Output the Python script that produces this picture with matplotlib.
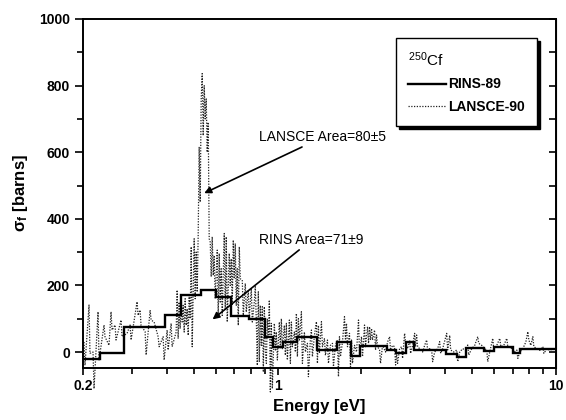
import matplotlib
matplotlib.use("Agg")
import matplotlib.pyplot as plt
from matplotlib.ticker import FixedLocator, NullFormatter, LogLocator
from matplotlib.lines import Line2D

plt.rcParams['font.family'] = ['Liberation Sans', 'DejaVu Sans']
plt.rcParams['mathtext.fontset'] = 'custom'
plt.rcParams['mathtext.rm'] = 'Liberation Sans'
plt.rcParams['mathtext.it'] = 'Liberation Sans:italic'
plt.rcParams['mathtext.bf'] = 'Liberation Sans:bold'

# RINS-89 histogram (bin edges in eV, cross sections in barns)
rins_edges = [0.2, 0.231, 0.281, 0.395, 0.45, 0.53, 0.60, 0.68, 0.79, 0.90, 0.96,
              1.05, 1.17, 1.38, 1.63, 1.83, 1.98, 2.47, 2.66, 2.9, 3.1, 4.03, 4.4,
              4.76, 5.5, 5.98, 7.0, 7.4, 10.0]
rins_sigma = [-20, -4, 76, 112, 170, 185, 166, 108, 98, 46, 16, 31, 46, 6, 31, -12,
              18, 6, -4, 31, 6, -6, -14, 11, 4, 14, -4, 9]

# LANSCE-90 measurement (energy in eV, cross section in barns)
lansce_energy = [
    0.2017, 0.2033, 0.2102, 0.2119, 0.2173, 0.2191, 0.2265, 0.2284, 0.2380, 0.2399,
    0.2480, 0.2522, 0.2543, 0.2607, 0.2628, 0.2740, 0.2762, 0.2880, 0.2952, 0.2977,
    0.3128, 0.3154, 0.3207, 0.3233, 0.3343, 0.3371, 0.3484, 0.3513, 0.3602, 0.3723,
    0.3754, 0.3880, 0.3912, 0.4011, 0.4044, 0.4146, 0.4180, 0.4321, 0.4357, 0.4393,
    0.4430, 0.4467, 0.4504, 0.4541, 0.4580, 0.4618, 0.4656, 0.4695, 0.4734, 0.4774,
    0.4813, 0.4853, 0.4894, 0.4934, 0.5016, 0.5058, 0.5100, 0.5143, 0.5185, 0.5228,
    0.5272, 0.5316, 0.5360, 0.5405, 0.5450, 0.5495, 0.5541, 0.5587, 0.5633, 0.5680,
    0.5728, 0.5775, 0.5823, 0.5872, 0.5921, 0.5970, 0.6070, 0.6120, 0.6171, 0.6222,
    0.6274, 0.6326, 0.6432, 0.6486, 0.6539, 0.6594, 0.6704, 0.6760, 0.6816, 0.6872,
    0.6931, 0.6989, 0.7047, 0.7105, 0.7164, 0.7224, 0.7284, 0.7345, 0.7467, 0.7529,
    0.7655, 0.7718, 0.7847, 0.7912, 0.8045, 0.8111, 0.8248, 0.8317, 0.8386, 0.8455,
    0.8526, 0.8597, 0.8668, 0.8740, 0.8813, 0.8887, 0.8961, 0.9035, 0.9111, 0.9186,
    0.9263, 0.9340, 0.9417, 0.9496, 0.9574, 0.9735, 0.9816, 0.9898, 0.9980, 1.0147,
    1.0231, 1.0316, 1.0402, 1.0576, 1.0664, 1.0753, 1.0842, 1.1023, 1.1115, 1.1207,
    1.1300, 1.1490, 1.1585, 1.1682, 1.1779, 1.1877, 1.1975, 1.2175, 1.2277, 1.2483,
    1.2587, 1.2797, 1.2903, 1.3119, 1.3228, 1.3338, 1.3561, 1.3787, 1.3902, 1.4017,
    1.4134, 1.4370, 1.4489, 1.4733, 1.4855, 1.5103, 1.5229, 1.5483, 1.5741, 1.5873,
    1.6138, 1.6407, 1.6544, 1.6681, 1.6820, 1.7101, 1.7388, 1.7533, 1.7679, 1.7826,
    1.8123, 1.8274, 1.8426, 1.8579, 1.8891, 1.9206, 1.9527, 1.9689, 2.0018, 2.0184,
    2.0523, 2.0694, 2.1039, 2.1214, 2.1391, 2.1568, 2.1748, 2.1929, 2.2296, 2.2481,
    2.2668, 2.2857, 2.3238, 2.3431, 2.3823, 2.4424, 2.4832, 2.5246, 2.5456, 2.5881,
    2.6315, 2.6534, 2.6754, 2.6977, 2.7427, 2.7885, 2.8117, 2.8589, 2.8826, 2.9308,
    2.9797, 3.0045, 3.0546, 3.1058, 3.1316, 3.1577, 3.1839, 3.2371, 3.3185, 3.3742,
    3.4306, 3.4591, 3.5168, 3.5756, 3.6053, 3.6657, 3.7579, 3.8207, 3.8524, 3.9167,
    4.0489, 4.0826, 4.1508, 4.1853, 4.2908, 4.3987, 4.4353, 4.5093, 4.6227, 4.7393,
    4.8185, 4.8585, 4.9807, 5.1064, 5.2348, 5.2784, 5.4111, 5.5476, 5.6402, 5.6871,
    5.7820, 5.9274, 5.9772, 6.1275, 6.2816, 6.3339, 6.4936, 6.6569, 6.7122, 6.9383,
    7.0546, 7.2320, 7.2921, 7.4139, 7.6003, 7.7921, 7.9222, 7.9881, 8.1214, 8.2570,
    8.3263, 8.5357, 8.7504, 8.9704, 9.0457, 9.2732, 9.5064, 9.7455, 9.99]
lansce_sigma = [
    30, -40, 141, -4, 0, -110, 121, -24, 81, 46,
    20, 121, 66, 81, 36, 96, 46, 56, 81, 36,
    151, 110, 126, 80, 61, -9, 126, 96, 90, 46,
    16, 46, -24, 66, 6, 86, 16, 60, 186, 40,
    150, 70, 170, 90, 140, 60, 160, 80, 130, 50,
    170, 100, 316, 16, 340, 160, 300, 180, 350, 616,
    450, 760, 836, 650, 800, 700, 760, 600, 690, 340,
    330, 226, 346, 230, 290, 160, 306, 110, 296, 150,
    250, 110, 356, 130, 346, 90, 296, 200, 280, 140,
    336, 220, 326, 140, 250, 80, 316, 220, 216, 110,
    206, 120, 186, 106, 191, 90, 150, 196, 96, -40,
    181, -30, 140, 20, 136, -60, 136, 6, -34, 100,
    40, 156, -120, 86, -110, 86, 6, 60, -24, 90,
    10, 100, 10, 80, -10, 86, -24, 96, -34, 90,
    16, 60, 0, 116, -14, 100, 36, 121, -34, 60,
    0, 26, -74, 40, 66, -14, 50, 91, -34, 80,
    -4, 91, 16, 40, -10, 36, -34, 20, 26, -44,
    20, 36, -74, 46, -14, 30, 106, 36, 86, 16,
    56, -44, 36, -34, 20, 0, 96, -4, 46, -14,
    81, 16, 76, 26, 76, 36, 71, 36, 66, 6,
    51, 16, 6, -34, 20, 0, 30, 46, 6, 20,
    16, -39, -4, -34, 10, 16, -19, 56, 26, 10,
    36, -4, 20, 56, 16, 51, 16, 10, 0, 20,
    36, 6, 10, 6, -29, 0, 10, 31, -4, 10,
    56, 6, 50, 6, 0, 6, -29, 0, 10, 5,
    21, -9, 10, 20, 46, 26, 20, 10, 6, -29,
    0, 41, 6, 20, 41, 16, 20, 41, 16, 10,
    0, 6, -19, 0, 10, 30, 61, 36, 20, 46,
    16, 10, 5, 16, -4, 10, 5, 10, 10]

x_ticks = [0.2, 1, 10]
x_ticklabels = ['0.2', '1', '10']
y_ticks = [0, 200, 400, 600, 800, 1000]

fig = plt.figure(figsize=(5.66, 4.20), dpi=100)
ax = fig.add_axes([83/566, 52/420, 473/566, 349/420])

lan_style = (0, (1, 1.2))
ax.plot(lansce_energy, lansce_sigma, color='#222222', lw=0.9,
        linestyle=lan_style, clip_on=False, zorder=2)
ax.stairs(rins_sigma, rins_edges, color='black', lw=1.7, baseline=None, zorder=3)

ax.set_xscale('log')
ax.set_xlim(0.2, 10)
ax.set_ylim(-48, 1000)

ax.xaxis.set_major_locator(FixedLocator(x_ticks))
ax.set_xticklabels(x_ticklabels)
ax.xaxis.set_minor_locator(LogLocator(base=10, subs=range(2, 10)))
ax.xaxis.set_minor_formatter(NullFormatter())
ax.set_yticks(y_ticks)
ax.yaxis.set_minor_locator(FixedLocator(range(100, 1000, 200)))

ax.tick_params(axis='x', which='major', direction='out', length=5, width=1.2,
               labelsize=10, pad=3)
ax.tick_params(axis='x', which='minor', direction='out', length=4, width=1.2)
ax.tick_params(axis='y', which='major', direction='out', length=6, width=1.2,
               labelsize=10, left=True, right=False)
ax.tick_params(axis='y', which='minor', direction='out', length=4, width=1.2)
for lab in ax.get_xticklabels() + ax.get_yticklabels():
    lab.set_fontweight('bold')

# right axis ticks pointing inward
sec = ax.secondary_yaxis('right')
sec.set_yticks(list(range(0, 1001, 100)))
sec.tick_params(direction='in', length=5, width=1.2, labelright=False)

for s in ax.spines.values():
    s.set_linewidth(1.4)

ax.set_xlabel('Energy [eV]', fontsize=12, fontweight='bold', labelpad=4)
ax.set_ylabel('\u03c3$_{\\mathregular{f}}$ [barns]', fontsize=12,
              fontweight='bold', labelpad=6)

ax.annotate('LANSCE Area=80\u00b15', xy=(0.545, 477), xytext=(0.859, 645),
            fontsize=10, va='center', ha='left',
            arrowprops=dict(arrowstyle='-|>', color='black', lw=1.2,
                            mutation_scale=10, shrinkA=0, shrinkB=0))
ax.annotate('RINS Area=71\u00b19', xy=(0.584, 98), xytext=(0.859, 336),
            fontsize=10, va='center', ha='left',
            arrowprops=dict(arrowstyle='-|>', color='black', lw=1.2,
                            mutation_scale=10, shrinkA=0, shrinkB=0))

h_rins = Line2D([], [], color='black', lw=1.7)
h_lan = Line2D([], [], color='#222222', lw=0.9, linestyle=lan_style)
leg = ax.legend([h_rins, h_lan], ['RINS-89', 'LANSCE-90'], title=r'$^{250}$Cf',
                loc='upper right', bbox_to_anchor=(0.960, 0.9456), borderaxespad=0,
                prop={'size': 10, 'weight': 'bold'}, title_fontsize=11,
                alignment='left', frameon=True,
                fancybox=False, shadow={'color': 'black', 'alpha': 1.0},
                edgecolor='black', handlelength=2.7, handletextpad=0.15,
                borderpad=0.9, labelspacing=0.6)
leg.get_frame().set_linewidth(1.0)

fig.savefig('out.png', dpi=100, facecolor='white')
